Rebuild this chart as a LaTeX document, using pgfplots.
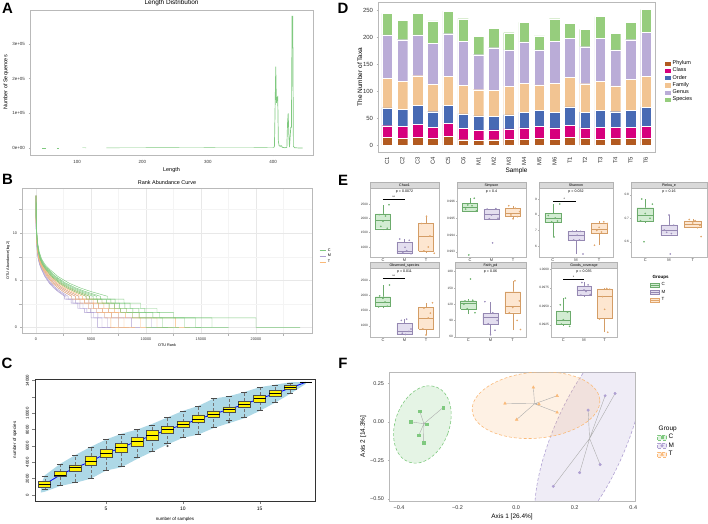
\documentclass[border=0pt]{standalone}
\usepackage{fontspec}
\setmainfont{Liberation Sans}
\usepackage{pgfplots}
\usepackage{pgfplotstable}
\pgfplotsset{compat=1.18}

\definecolor{gC}{RGB}{127,201,127}
\definecolor{gM}{RGB}{175,160,210}
\definecolor{gT}{RGB}{250,185,120}
\definecolor{cPh}{RGB}{178,90,32}
\definecolor{cCl}{RGB}{214,0,125}
\definecolor{cOr}{RGB}{72,106,180}
\definecolor{cFa}{RGB}{242,196,146}
\definecolor{cGe}{RGB}{186,172,215}
\definecolor{cSp}{RGB}{150,205,125}
\definecolor{lblue}{RGB}{173,216,230}

\newcommand{\ft}[1]{\fontsize{#1}{#1}\selectfont}

\pgfplotsset{
  base/.style={scale only axis, anchor=south west,
    /pgf/number format/assume math mode=true,
    tick align=outside, tick pos=left, major tick length=1.5bp,
    tick style={line width=0.4pt}},
  gg/.style={base, axis line style={gray!55, line width=0.6pt},
    tick style={gray!60}, ticklabel style={gray!40!black}},
  eb/.style={gg, height=69bp, xmin=0.4, xmax=3.6, xtick={1,2,3},
    xticklabels={C,M,T}, clip=false, major tick length=1bp,
    yticklabel style={font=\ft{3.2}, inner sep=0.8bp},
    xticklabel style={font=\ft{4}, inner sep=0.4bp},
    scaled y ticks=false},
  pC/.style={only marks, mark=*, mark size=0.6bp, gC!90!black, forget plot},
  pM/.style={only marks, mark=*, mark size=0.6bp, gM!90!black, forget plot},
  pT/.style={only marks, mark=*, mark size=0.6bp, gT!90!black, forget plot},
}

% rarefaction box: #1 position, #2 position-1, then whisker/quartile values
\newcommand{\cbox}[7]{%
  \addplot[black!55, densely dashed, line width=0.35pt, forget plot] coordinates {(#1,#3)(#1,#4)};
  \addplot[black!55, densely dashed, line width=0.35pt, forget plot] coordinates {(#1,#6)(#1,#7)};
  \addplot[black!70, line width=0.35pt, forget plot] coordinates {(#2.8,#3)(#1.2,#3)};
  \addplot[black!70, line width=0.35pt, forget plot] coordinates {(#2.8,#7)(#1.2,#7)};
  \addplot[draw=black!70, fill=yellow, line width=0.5pt, forget plot] coordinates {(#2.61,#4)(#1.39,#4)(#1.39,#6)(#2.61,#6)(#2.61,#4)};
  \addplot[black, line width=1pt, forget plot] coordinates {(#2.61,#5)(#1.39,#5)};
}
% alpha-diversity box, #8 group colour
\newcommand{\ebox}[8]{%
  \addplot[#8!85!black, line width=0.35pt, forget plot] coordinates {(#1,#3)(#1,#4)};
  \addplot[#8!85!black, line width=0.35pt, forget plot] coordinates {(#1,#6)(#1,#7)};
  \addplot[draw=#8!85!black, fill=#8!35, line width=0.35pt, forget plot] coordinates {(#2.65,#4)(#1.35,#4)(#1.35,#6)(#2.65,#6)(#2.65,#4)};
  \addplot[#8!85!black, line width=0.5pt, forget plot] coordinates {(#2.65,#5)(#1.35,#5)};
}
\newcommand{\strip}[1]{%
  \draw[fill=gray!30, draw=gray!60, line width=0.4pt] (rel axis cs:0,1) rectangle ([yshift=5.5bp]rel axis cs:1,1);
  \node[font=\ft{3.6}] at ([yshift=2.75bp]rel axis cs:0.5,1) {#1};}
\newcommand{\pval}[1]{\node[font=\ft{3.6}] at (rel axis cs:0.5,0.95) {#1};}
\newcommand{\sig}[2]{%
  \draw[line width=0.3pt] (axis cs:1,#1) -- (axis cs:2,#1);
  \node[font=\ft{3.6}, above, inner sep=0.2bp] at (axis cs:1.5,#1) {#2};}

% rank abundance curves: log2 abundance (v) against OTU rank for each sample
\pgfplotstableread{
v g1 g2 g3 g4 g5 g6 t1 t2 t3 t4 t5 t6 m1 m2 m3 m4 m5 m6
14 1 1 1 1 1 1 1 1 1 1 1 1 1 1 1 1 1 1
12.5 10 9 8.5 8 7.5 7 7.5 7 6.5 6 5.5 5 6 5.5 5 4.5 4.2 4
10.5 50 45 42 40 38 35 38 35 32 30 28 25 30 28 25 22 21 20
9 150 135 128 120 112 105 112 105 98 90 82 75 90 82 75 68 63 60
8 300 270 255 240 225 210 225 210 195 180 165 150 180 165 150 135 126 120
7.3 500 450 425 400 375 350 375 350 325 300 275 250 300 275 250 225 210 200
6.7 800 720 680 640 600 560 600 560 520 480 440 400 480 440 400 360 336 320
6.2 1200 1080 1020 960 900 840 900 840 780 720 660 600 720 660 600 540 504 480
5.4 2000 1800 1700 1600 1500 1400 1500 1400 1300 1200 1100 1000 1200 1100 1000 900 840 800
4.7 3000 2700 2550 2400 2250 2100 2250 2100 1950 1800 1650 1500 1800 1650 1500 1350 1260 1200
4.2 4000 3600 3400 3200 3000 2800 3000 2800 2600 2400 2200 2000 2400 2200 2000 1800 1680 1600
3.8 5000 4500 4250 4000 3750 3500 3750 3500 3250 3000 2750 2500 3000 2750 2500 2250 2100 2000
3.3 6500 5850 5525 5200 4875 4550 4875 4550 4225 3900 3575 3250 3900 3575 3250 2925 2730 2600
3 6500 5850 5525 5200 4875 4550 4875 4550 4225 3900 3575 3250 3900 3575 3250 2925 2730 2600
3 8000 7200 6800 6400 6000 5600 6000 5600 5200 4800 4400 4000 4800 4400 4000 3600 3360 3200
2.58 8000 7200 6800 6400 6000 5600 6000 5600 5200 4800 4400 4000 4800 4400 4000 3600 3360 3200
2.58 9500 8550 8075 7600 7125 6650 7125 6650 6175 5700 5225 4750 5700 5225 4750 4275 3990 3800
2 9500 8550 8075 7600 7125 6650 7125 6650 6175 5700 5225 4750 5700 5225 4750 4275 3990 3800
2 11000 9900 9350 8800 8250 7700 8250 7700 7150 6600 6050 5500 6600 6050 5500 4950 4620 4400
1.58 11000 9900 9350 8800 8250 7700 8250 7700 7150 6600 6050 5500 6600 6050 5500 4950 4620 4400
1.58 12500 11250 10625 10000 9375 8750 9375 8750 8125 7500 6875 6250 7500 6875 6250 5625 5250 5000
1 12500 11250 10625 10000 9375 8750 9375 8750 8125 7500 6875 6250 7500 6875 6250 5625 5250 5000
1 20000 16000 14500 13500 11500 10000 12700 11000 9500 8000 7500 6800 10500 8700 7500 6500 6000 5600
0 20000 16000 14500 13500 11500 10000 12700 11000 9500 8000 7500 6800 10500 8700 7500 6500 6000 5600
0 24000 17500 16000 15000 13000 12000 14000 12500 10500 9000 8200 7500 12000 9500 8500 7200 6800 6300
}\rank

% taxa counts per level for each sample
\pgfplotstableread{
x ph cl or fa ge sp
1 14 22 33 55 81 40
2 13 22 31 52 78 36
3 14 25 35 55 76 40
4 12 21 29 51 76 42
5 16 24 34 54 79 42
6 10 21 27 53 82 42
7 9 18 27 49 65 34
8 10 18 25 49 79 36
9 11 19 26 53 68 32
10 11 21 29 54 77 36
11 12 23 29 48 65 26
12 11 21 29 54 78 42
13 14 23 34 55 72 28
14 12 20 29 53 69 32
15 11 22 31 54 80 41
16 13 20 29 48 67 31
17 12 21 32 57 74 32
18 13 22 35 58 82 42
}\taxa

\begin{document}
\begin{tikzpicture}
\useasboundingbox (0,0) rectangle (708bp,524bp);

\foreach \l/\x/\y in {A/7.5/516,B/7.5/345,C/7/161,D/343/516,E/343/344,F/343/161}
  \node[font=\ft{15}\bfseries] at (\x bp,\y bp) {\l};

% ---------------- A
\begin{axis}[gg, at={(30bp,369bp)}, width=283bp, height=145bp,
  xmin=28, xmax=461, ymin=-20000, ymax=398000,
  xtick={100,200,300,400}, ytick={0,100000,200000,300000},
  yticklabels={0e+00,1e+05,2e+05,3e+05}, scaled y ticks=false,
  ticklabel style={font=\ft{4.5}},
  title={Length Distribution}, title style={font=\ft{6.5}, yshift=-5bp},
  xlabel={Length}, ylabel={Number of Sequences},
  label style={font=\ft{5.5}}, xlabel style={yshift=3bp}, ylabel style={yshift=-3bp}]
\addplot[gC, line width=0.4pt] coordinates {(47,600)(52,600)};
\addplot[gC, line width=0.4pt] coordinates {(69,600)(72,600)};
\addplot[gC, line width=0.4pt] coordinates {(108,900)(114,700)};
\addplot[gC, line width=0.4pt] coordinates {(145,500)(170,800)(200,1000)(230,1200)(260,1500)(300,1800)(350,1600)(380,1400)(398,1500)(401,2000)};
\addplot[gC, line width=0.7pt] coordinates {(401,2000)(402,5000)(403,115000)(404,235000)(405,130000)(406,145000)(407,148000)(408,20000)(409,8000)(410,6000)(411,5000)(412,7000)(413,6000)(414,2000)(418,1000)(421,2000)(422,70000)(423,100000)(424,40000)(425,3000)(427,60000)(428,60000)(429,380000)(430,380000)(431,5000)(433,800)(440,300)(445,0)};
\end{axis}

% ---------------- B
\begin{axis}[gg, at={(22bp,191bp)}, width=290bp, height=145bp,
  xmin=-1270, xmax=25090, ymin=-0.6, ymax=14.8,
  xtick={0,5000,10000,15000,20000}, ytick={0,5,10},
  minor xtick={2500,7500,12500,17500,22500}, minor ytick={2.5,7.5,12.5},
  grid=both, major grid style={gray!18}, minor grid style={gray!9},
  scaled x ticks=false, xticklabel style={/pgf/number format/1000 sep={}},
  ticklabel style={font=\ft{3.8}},
  title={Rank Abundance Curve}, title style={font=\ft{5.5}, yshift=-6bp},
  xlabel={OTU Rank}, ylabel={OTU Abundance(log2)},
  label style={font=\ft{3.8}}, xlabel style={yshift=4bp}, ylabel style={yshift=-4bp},
  legend style={draw=none, fill=none, at={(1.025,0.53)}, anchor=west, font=\ft{3.8},
    row sep=-2.5bp, inner sep=0pt},
  legend cell align=left,
  legend image code/.code={\draw[#1] (0bp,0bp) -- (6bp,0bp);}]
\foreach \c in {m1,m2,m3,m4,m5,m6}{\addplot[gM, line width=0.45pt, forget plot] table[x=\c, y=v] {\rank};}
\foreach \c in {t1,t2,t3,t4,t5,t6}{\addplot[gT, line width=0.45pt, forget plot] table[x=\c, y=v] {\rank};}
\foreach \c in {g1,g2,g3,g4,g5,g6}{\addplot[gC, line width=0.45pt, forget plot] table[x=\c, y=v] {\rank};}
\addlegendimage{gC, line width=0.5pt}\addlegendentry{C}
\addlegendimage{gM, line width=0.5pt}\addlegendentry{M}
\addlegendimage{gT, line width=0.5pt}\addlegendentry{T}
\end{axis}

% ---------------- C
\begin{axis}[base, at={(35bp,23bp)}, width=280bp, height=122bp,
  axis line style={black!80, line width=0.5pt},
  xmin=0.37, xmax=18.6, ymin=-730, ymax=14200,
  xtick={5,10,15}, ytick={0,2000,4000,6000,8000,10000,12000,14000},
  yticklabels={0,2000,4000,6000,8000,10000,,14000}, scaled y ticks=false,
  yticklabel style={rotate=90, anchor=south, font=\ft{4.3}},
  xticklabel style={font=\ft{5}},
  xlabel={number of samples}, ylabel={number of species},
  label style={font=\ft{4.5}}, ylabel style={yshift=2bp},
  major tick length=2.5bp]
\addplot[fill=lblue, draw=none, forget plot] coordinates {
  (0.75,1200)(1,2400)(2,3800)(3,4900)(4,5900)(5,6800)(6,7500)(7,8000)(8,8700)(9,9500)
  (10,10300)(11,10900)(12,11800)(13,12100)(14,12600)(15,13200)(16,13500)(17,13800)(18,13850)
  (18,13600)(17,12400)(16,11300)(15,10300)(14,9400)(13,8800)(12,8200)(11,7400)(10,7000)
  (9,6200)(8,5300)(7,4400)(6,3400)(5,3000)(4,2000)(3,1500)(2,1100)(1,400)(0.75,300)(0.75,1200)};
\addplot[blue, line width=0.8pt, forget plot] coordinates {(1,1300)(2,2450)(3,3350)(4,4100)(5,5100)(6,5800)(7,6600)(8,7300)(9,8000)(10,8600)(11,9300)(12,9900)(13,10500)(14,11100)(15,11800)(16,12400)(17,13100)(18,13800)};
\cbox{1}{0}{700}{900}{1300}{1650}{2300}
\cbox{2}{1}{1200}{2250}{2450}{2850}{3800}
\cbox{3}{2}{1600}{2950}{3350}{3700}{4900}
\cbox{4}{3}{2100}{3700}{4100}{4800}{5900}
\cbox{5}{4}{3100}{4600}{5100}{5600}{6800}
\cbox{6}{5}{3500}{5200}{5800}{6300}{7500}
\cbox{7}{6}{4600}{6000}{6600}{7100}{8000}
\cbox{8}{7}{5400}{6700}{7300}{7900}{8600}
\cbox{9}{8}{6300}{7500}{8000}{8400}{9500}
\cbox{10}{9}{7100}{8300}{8600}{9000}{10300}
\cbox{11}{10}{7500}{8900}{9300}{9800}{10900}
\cbox{12}{11}{8300}{9500}{9900}{10300}{11800}
\cbox{13}{12}{9100}{10100}{10500}{10800}{12100}
\cbox{14}{13}{9500}{10700}{11100}{11500}{12600}
\cbox{15}{14}{10400}{11400}{11800}{12200}{13200}
\cbox{16}{15}{11400}{12100}{12400}{12800}{13500}
\cbox{17}{16}{12500}{12900}{13100}{13400}{13700}
\addplot[black, line width=1pt, forget plot] coordinates {(17.61,13800)(18.39,13800)};
\addplot[only marks, mark=*, mark size=0.8bp, black!70, forget plot] coordinates {(9,6000)(13,8900)};
\end{axis}

% ---------------- D
\begin{axis}[gg, at={(378bp,372bp)}, width=277bp, height=150bp,
  ybar stacked, bar width=10.5bp,
  xmin=0.4, xmax=18.6, ymin=-13, ymax=266,
  xtick={1,...,18},
  xticklabels={C1,C2,C3,C4,C5,C6,M1,M2,M3,M4,M5,M6,T1,T2,T3,T4,T5,T6},
  xticklabel style={rotate=90, anchor=east, font=\ft{6}},
  ytick={0,50,100,150,200,250}, yticklabel style={font=\ft{6}},
  xlabel={Sample}, ylabel={The Number of Taxa},
  label style={font=\ft{6.5}}, xlabel style={yshift=4bp}, ylabel style={yshift=-6bp},
  legend style={draw=none, fill=none, at={(1.03,0.47)}, anchor=west, font=\ft{5.5},
    row sep=-2.2bp, inner sep=0pt},
  legend cell align=left,
  legend image code/.code={\fill[#1] (0bp,-2.6bp) rectangle (7bp,2.6bp);}]
\addplot[fill=cPh, draw=white, line width=0.2pt] table[x=x, y=ph] {\taxa};
\addplot[fill=cCl, draw=white, line width=0.2pt] table[x=x, y=cl] {\taxa};
\addplot[fill=cOr, draw=white, line width=0.2pt] table[x=x, y=or] {\taxa};
\addplot[fill=cFa, draw=white, line width=0.2pt] table[x=x, y=fa] {\taxa};
\addplot[fill=cGe, draw=white, line width=0.2pt] table[x=x, y=ge] {\taxa};
\addplot[fill=cSp, draw=white, line width=0.2pt] table[x=x, y=sp] {\taxa};
\legend{Phylum,Class,Order,Family,Genus,Species}
\end{axis}

% ---------------- E
\begin{axis}[eb, at={(370bp,267bp)}, width=69bp, ymin=648, ymax=3062,
  ytick={1000,1500,2000,2500}, yticklabels={1000,1500,2000,2500}]
\ebox{1}{0}{1579}{1638}{1948}{2155}{2476}{gC}
\ebox{2}{1}{752}{776}{866}{1166}{1279}{gM}
\ebox{3}{2}{776}{855}{1372}{1831}{2072}{gT}
\addplot[pC] coordinates {(1.28,2476)(0.82,2130)(1.12,2080)(0.9,1720)(1.2,1650)(1.0,1900)};
\addplot[pM] coordinates {(1.78,1280)(2.22,1230)(2.1,870)(1.92,800)(2.3,760)(2.02,990)};
\addplot[pT] coordinates {(3.02,2072)(2.8,1820)(3.18,1380)(3.1,1000)(2.9,860)(3.38,780)};
\strip{Chao1}\pval{p = 0.0072}\sig{2672}{**}
\end{axis}

\begin{axis}[eb, at={(457bp,267bp)}, width=69bp, ymin=0.99269, ymax=0.99681,
  ytick={0.993,0.994,0.995,0.996}, yticklabels={0.993,0.994,0.995,0.996}]
\ebox{1}{0}{0.99539}{0.99541}{0.99569}{0.99588}{0.9962}{gC}
\ebox{2}{1}{0.99492}{0.99496}{0.99526}{0.99555}{0.99557}{gM}
\ebox{3}{2}{0.99496}{0.9951}{0.99532}{0.99561}{0.99575}{gT}
\addplot[pC] coordinates {(1.2,0.9962)(0.9,0.9958)(1.1,0.99575)(0.8,0.99555)(1.3,0.99545)(0.95,0.99281)};
\addplot[pM] coordinates {(1.8,0.99555)(2.2,0.99558)(2.0,0.9952)(1.9,0.99498)(2.3,0.9950)(2.05,0.99353)};
\addplot[pT] coordinates {(2.8,0.99575)(3.1,0.9956)(3.3,0.9954)(2.9,0.9952)(3.2,0.9951)(3.0,0.99497)};
\strip{Simpson}\pval{p = 0.4}
\end{axis}

\begin{axis}[eb, at={(539bp,267bp)}, width=74bp, ymin=5.31, ymax=9.71,
  ytick={6,7,8,9}, yticklabels={6,7,8,9}]
\ebox{1}{0}{6.58}{7.53}{7.78}{8.09}{8.69}{gC}
\ebox{2}{1}{5.5}{6.38}{6.69}{6.96}{7.05}{gM}
\ebox{3}{2}{6.06}{6.8}{7.11}{7.47}{7.59}{gT}
\addplot[pC] coordinates {(1.3,8.69)(0.8,7.95)(1.1,7.8)(0.95,7.55)(1.2,7.6)(1.05,6.58)};
\addplot[pM] coordinates {(1.85,6.95)(2.2,6.95)(2.05,6.7)(1.9,6.4)(2.15,6.4)(2.3,5.5)};
\addplot[pT] coordinates {(2.8,6.06)(3.2,7.55)(3.35,7.45)(3.0,7.2)(3.1,6.9)(2.9,7.0)};
\strip{Shannon}\pval{p = 0.032}\sig{8.89}{*}
\end{axis}

\begin{axis}[eb, at={(631bp,267bp)}, width=76bp, ymin=0.535, ymax=0.829,
  ytick={0.6,0.7,0.8}, yticklabels={0.6,0.7,0.8}]
\ebox{1}{0}{0.679}{0.689}{0.711}{0.745}{0.782}{gC}
\ebox{2}{1}{0.625}{0.63}{0.651}{0.672}{0.714}{gM}
\ebox{3}{2}{0.658}{0.661}{0.675}{0.689}{0.695}{gT}
\addplot[pC] coordinates {(0.85,0.782)(1.3,0.76)(1.0,0.72)(0.8,0.689)(1.2,0.70)(0.95,0.60)};
\addplot[pM] coordinates {(2.0,0.714)(2.2,0.67)(1.9,0.64)(2.1,0.635)(1.8,0.65)(2.05,0.548)};
\addplot[pT] coordinates {(2.85,0.695)(3.1,0.69)(3.0,0.68)(3.3,0.67)(3.2,0.66)(3.35,0.622)};
\strip{Pielou\_e}\pval{p = 0.16}
\end{axis}

\begin{axis}[eb, at={(370bp,187bp)}, width=69bp, ymin=637, ymax=2892,
  ytick={1000,1500,2000,2500}, yticklabels={1000,1500,2000,2500}]
\ebox{1}{0}{1576}{1628}{1758}{1954}{2336}{gC}
\ebox{2}{1}{702}{736}{810}{1084}{1216}{gM}
\ebox{3}{2}{702}{898}{1248}{1608}{1758}{gT}
\addplot[pC] coordinates {(1.3,2336)(0.85,1980)(1.1,1780)(0.8,1620)(1.2,1640)(1.0,1900)};
\addplot[pM] coordinates {(1.85,1180)(2.1,1220)(2.2,820)(1.9,760)(2.05,720)(2.3,900)};
\addplot[pT] coordinates {(3.3,1758)(2.9,1580)(3.2,1420)(3.1,1260)(2.85,900)(3.0,702)};
\strip{Observed\_species}\pval{p = 0.011}\sig{2556}{**}
\end{axis}

\begin{axis}[eb, at={(455bp,187bp)}, width=71bp, ymin=59.5, ymax=186.8,
  ytick={60,90,120,150,180}, yticklabels={60,90,120,150,180}]
\ebox{1}{0}{101.9}{110.6}{121.7}{126.5}{129}{gC}
\ebox{2}{1}{63.1}{83.5}{95.9}{103.2}{124.7}{gM}
\ebox{3}{2}{72.4}{104.3}{116.6}{143}{163.4}{gT}
\addplot[pC] coordinates {(1.1,166.6)(0.85,126)(1.2,127.2)(0.95,111.6)(1.3,104.4)(0.8,120)};
\addplot[pM] coordinates {(1.75,124.7)(2.1,104.4)(2.3,90)(1.9,84)(2.2,72)(2.0,63.6)};
\addplot[pT] coordinates {(3.1,163.2)(3.3,126)(2.85,104.4)(3.0,114)(3.2,90)(3.35,73.2)};
\strip{Faith\_pd}\pval{p = 0.06}
\end{axis}

\begin{axis}[eb, at={(551bp,187bp)}, width=66bp, ymin=0.99086, ymax=1.00017,
  ytick={0.9925,0.995,0.9975,1}, yticklabels={0.9925,0.9950,0.9975,1.0000},
  legend style={draw=none, fill=none, at={(1.5,0.93)}, anchor=north west, font=\ft{4.5},
    row sep=-1bp, inner sep=0pt},
  legend cell align=left,
  legend image code/.code={\draw[#1] (0bp,-2bp) rectangle (9bp,2bp); \draw[#1] (0bp,0bp) -- (9bp,0bp);}]
\ebox{1}{0}{0.99237}{0.99261}{0.99315}{0.99438}{0.99612}{gC}
\ebox{2}{1}{0.99627}{0.99652}{0.99711}{0.99777}{0.9983}{gM}
\ebox{3}{2}{0.9915}{0.99335}{0.99631}{0.99734}{0.99745}{gT}
\addplot[pC] coordinates {(0.85,0.9952)(1.2,0.9942)(1.0,0.9932)(0.9,0.9926)(1.3,0.9923)(1.1,0.9961)};
\addplot[pM] coordinates {(1.9,0.9982)(2.2,0.9979)(2.0,0.9972)(2.3,0.9966)(1.85,0.9965)(2.1,0.997)};
\addplot[pT] coordinates {(3.1,0.9974)(3.25,0.9973)(2.9,0.9963)(2.75,0.9933)(3.15,0.9915)(3.0,0.9946)};
\strip{Goods\_coverage}\pval{p = 0.035}\sig{0.99871}{*}
\addlegendimage{empty legend}\addlegendentry{\hspace{-9bp}\textbf{Groups}}
\addlegendimage{draw=gC!85!black, fill=gC!35}\addlegendentry{C}
\addlegendimage{draw=gM!85!black, fill=gM!35}\addlegendentry{M}
\addlegendimage{draw=gT!90!black, fill=gT!35}\addlegendentry{T}
\end{axis}

% ---------------- F
\begin{axis}[gg, at={(389bp,23bp)}, width=246bp, height=129bp,
  xmin=-0.434, xmax=0.406, ymin=-0.513, ymax=0.323,
  xtick={-0.4,-0.2,0,0.2,0.4}, xticklabels={−0.4,−0.2,0.0,0.2,0.4},
  ytick={-0.5,-0.25,0,0.25}, yticklabels={−0.50,−0.25,0.00,0.25},
  ticklabel style={font=\ft{5.5}},
  xlabel={Axis 1 [26.4\%]}, ylabel={Axis 2 [14.3\%]},
  label style={font=\ft{6.5}}, xlabel style={yshift=3bp}, ylabel style={yshift=-3bp},
  legend style={draw=none, fill=none, at={(1.09,0.6)}, anchor=north west, font=\ft{6.5},
    row sep=-1.5bp, inner sep=0pt},
  legend cell align=left]
\draw[densely dashed, line width=0.6pt, gM, fill=gM, fill opacity=0.2, rotate around={67:(axis cs:0.251,-0.108)}] (axis cs:0.251,-0.108) ellipse [x radius=110bp, y radius=37bp];
\draw[densely dashed, line width=0.6pt, gT, fill=gT, fill opacity=0.2, rotate around={5:(axis cs:0.068,0.108)}] (axis cs:0.068,0.108) ellipse [x radius=64bp, y radius=33bp];
\draw[densely dashed, line width=0.6pt, gC, fill=gC, fill opacity=0.2, rotate around={-20:(axis cs:-0.32,-0.017)}] (axis cs:-0.32,-0.017) ellipse [x radius=27bp, y radius=40bp];
\addplot[gray!65, line width=0.4pt, forget plot] coordinates {(-0.315,-0.012)(-0.329,0.069)(-0.315,-0.012)(-0.359,0.0)(-0.315,-0.012)(-0.306,-0.015)(-0.315,-0.012)(-0.249,0.093)(-0.315,-0.012)(-0.332,-0.087)(-0.315,-0.012)(-0.316,-0.134)};
\addplot[gray!65, line width=0.4pt, forget plot] coordinates {(0.063,0.117)(0.059,0.223)(0.063,0.117)(0.140,0.169)(0.063,0.117)(-0.038,0.119)(0.063,0.117)(0.078,0.115)(0.063,0.117)(0.140,0.061)(0.063,0.117)(0.002,0.015)};
\addplot[gray!65, line width=0.4pt, forget plot] coordinates {(0.251,-0.108)(0.246,0.076)(0.251,-0.108)(0.304,0.169)(0.251,-0.108)(0.338,0.184)(0.251,-0.108)(0.287,-0.277)(0.251,-0.108)(0.217,-0.329)(0.251,-0.108)(0.127,-0.418)};
\addplot[only marks, mark=square*, mark size=1.3bp, gC, forget plot] coordinates {(-0.329,0.069)(-0.359,0.0)(-0.306,-0.015)(-0.249,0.093)(-0.332,-0.087)(-0.316,-0.134)};
\addplot[only marks, mark=triangle*, mark size=1.6bp, gT, forget plot] coordinates {(0.059,0.223)(0.140,0.169)(-0.038,0.119)(0.078,0.115)(0.140,0.061)(0.002,0.015)};
\addplot[only marks, mark=*, mark size=1.3bp, gM, forget plot] coordinates {(0.246,0.076)(0.304,0.169)(0.338,0.184)(0.287,-0.277)(0.217,-0.329)(0.127,-0.418)};
\addlegendimage{empty legend}\addlegendentry{\hspace{-10bp}Group}
\addlegendimage{legend image code/.code={\draw[densely dashed, gC, fill=gC!25] (0bp,-2.5bp) rectangle (9bp,2.5bp); \fill[gC] (3.3bp,-1.2bp) rectangle (5.7bp,1.2bp);}}\addlegendentry{C}
\addlegendimage{legend image code/.code={\draw[densely dashed, gM, fill=gM!25] (0bp,-2.5bp) rectangle (9bp,2.5bp); \fill[gM] (4.5bp,0bp) circle (1.3bp);}}\addlegendentry{M}
\addlegendimage{legend image code/.code={\draw[densely dashed, gT, fill=gT!25] (0bp,-2.5bp) rectangle (9bp,2.5bp); \fill[gT] (3.1bp,-1.1bp) -- (5.9bp,-1.1bp) -- (4.5bp,1.5bp) -- cycle;}}\addlegendentry{T}
\end{axis}
\end{tikzpicture}
\end{document}
